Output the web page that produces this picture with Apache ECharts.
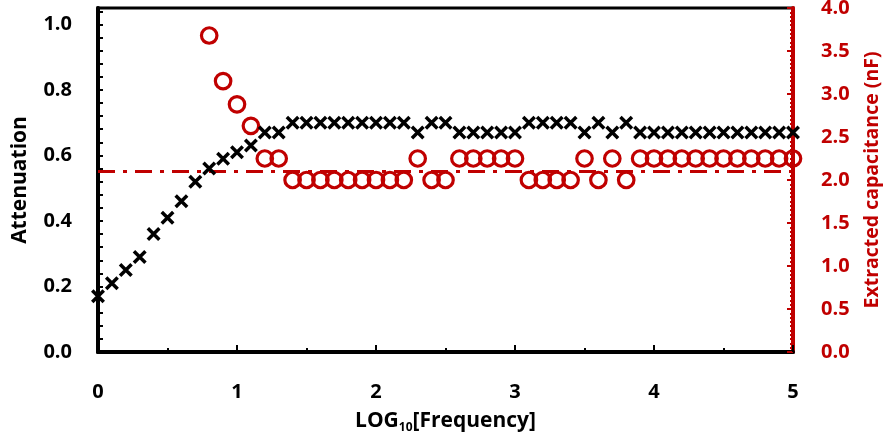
<!DOCTYPE html>
<html>
<head>
<meta charset="utf-8">
<script src="https://cdn.jsdelivr.net/npm/echarts@6/dist/echarts.min.js"></script>
<style>html,body{margin:0;padding:0;background:#fff}#chart{width:887px;height:438px}</style>
</head>
<body>
<div id="chart"></div>
<script>
// ---- data ----
var freqLog = [0.0,0.1,0.2,0.3,0.4,0.5,0.6,0.7,0.8,0.9,1.0,1.1,1.2,1.3,1.4,1.5,1.6,1.7,1.8,1.9,2.0,2.1,2.2,2.3,2.4,2.5,2.6,2.7,2.8,2.9,3.0,3.1,3.2,3.3,3.4,3.5,3.6,3.7,3.8,3.9,4.0,4.1,4.2,4.3,4.4,4.5,4.6,4.7,4.8,4.9,5.0];
var attenuation = [0.17,0.21,0.25,0.29,0.36,0.41,0.46,0.52,0.56,0.59,0.61,0.63,0.67,0.67,
  0.70,0.70,0.70,0.70,0.70,0.70,0.70,0.70,0.70,
  0.67,0.70,0.70,
  0.67,0.67,0.67,0.67,0.67,
  0.70,0.70,0.70,0.70,
  0.67,0.70,0.67,0.70,
  0.67,0.67,0.67,0.67,0.67,0.67,0.67,0.67,0.67,0.67,0.67,0.67];
var capFreqLog = [0.8,0.9,1.0,1.1,1.2,1.3,1.4,1.5,1.6,1.7,1.8,1.9,2.0,2.1,2.2,2.3,2.4,2.5,2.6,2.7,2.8,2.9,3.0,3.1,3.2,3.3,3.4,3.5,3.6,3.7,3.8,3.9,4.0,4.1,4.2,4.3,4.4,4.5,4.6,4.7,4.8,4.9,5.0];
var capacitance = [3.68,3.15,2.88,2.63,2.25,2.25,
  2.0,2.0,2.0,2.0,2.0,2.0,2.0,2.0,2.0,
  2.25,2.0,2.0,
  2.25,2.25,2.25,2.25,2.25,
  2.0,2.0,2.0,2.0,
  2.25,2.0,2.25,2.0,
  2.25,2.25,2.25,2.25,2.25,2.25,2.25,2.25,2.25,2.25,2.25,2.25];
var refLineX = [0, 5];
var refLineCap = [2.1, 2.1];
var xTicks = [0,1,2,3,4,5];
var leftTicks = [0.0,0.2,0.4,0.6,0.8,1.0];
var rightTicks = [0.0,0.5,1.0,1.5,2.0,2.5,3.0,3.5,4.0];

// ---- chart ----
var RED = '#C00000';
var FONT = '"Open Sans", sans-serif';
function pairs(xs, ys){ return xs.map(function(x,i){ return [x, ys[i]]; }); }
function inList(v, list){ for (var i=0;i<list.length;i++){ if (Math.abs(list[i]-v) < 1e-6) return true; } return false; }

var chart = echarts.init(document.getElementById('chart'));
chart.setOption({
  animation: false,
  backgroundColor: '#fff',
  grid: {left: 98, right: 94, top: 8, bottom: 86, show: true, borderColor: '#000', borderWidth: 3,
    backgroundColor: 'transparent', containLabel: false, outerBoundsMode: 'none'},
  xAxis: {
    type: 'value', min: 0, max: 5, interval: 1,
    name: 'LOG{s|10}[Frequency]', nameLocation: 'middle', nameGap: 56,
    nameTextStyle: {fontFamily: FONT, fontWeight: 'bold', fontSize: 21, color: '#000',
      rich: {s: {fontFamily: FONT, fontWeight: 'bold', fontSize: 12, color: '#000', verticalAlign: 'bottom', padding: [14,0,0,0]}}},
    axisLine: {show: true, onZero: false, lineStyle: {color: '#000', width: 4}},
    axisTick: {show: true, inside: true, length: 7, lineStyle: {color: '#000', width: 2}},
    minorTick: {show: true, splitNumber: 2, length: 4, lineStyle: {color: '#000', width: 2}},
    splitLine: {show: false},
    axisLabel: {margin: 30, fontFamily: FONT, fontWeight: 'bold', fontSize: 20, color: '#000',
      formatter: function(v){ return inList(v, xTicks) ? String(Math.round(v)) : ''; }}
  },
  yAxis: [{
    type: 'value', min: 0, max: 1.05, interval: 0.04, position: 'left',
    name: 'Attenuation', nameLocation: 'middle', nameGap: 67, nameRotate: 90,
    nameTextStyle: {fontFamily: FONT, fontWeight: 'bold', fontSize: 21, color: '#000'},
    axisLine: {show: true, onZero: false, lineStyle: {color: '#000', width: 4}},
    axisTick: {show: true, inside: true, length: 5, lineStyle: {color: '#000', width: 2}},
    splitLine: {show: false},
    axisLabel: {margin: 26, fontFamily: FONT, fontWeight: 'bold', fontSize: 20, color: '#000',
      formatter: function(v){ return inList(v, leftTicks) ? v.toFixed(1) : ''; }}
  }, {
    type: 'value', min: 0, max: 4, interval: 0.5, position: 'right',
    name: 'Extracted capacitance (nF)', nameLocation: 'middle', nameGap: 69, nameRotate: 90,
    nameTextStyle: {fontFamily: FONT, fontWeight: 'bold', fontSize: 19.5, color: RED},
    axisLine: {show: true, onZero: false, lineStyle: {color: RED, width: 4}},
    axisTick: {show: true, inside: true, length: 6, lineStyle: {color: RED, width: 2}},
    minorTick: {show: true, splitNumber: 10, length: 3, lineStyle: {color: RED, width: 2}},
    splitLine: {show: false},
    axisLabel: {margin: 28, fontFamily: FONT, fontWeight: 'bold', fontSize: 20, color: RED,
      formatter: function(v){ return inList(v, rightTicks) ? v.toFixed(1) : ''; }}
  }],
  series: [{
    type: 'line', yAxisIndex: 1, data: pairs(refLineX, refLineCap), symbol: 'none', z: 1,
    lineStyle: {color: RED, width: 3, type: [17, 8, 4, 8]}
  }, {
    type: 'scatter', yAxisIndex: 1, data: pairs(capFreqLog, capacitance), symbol: 'circle', symbolSize: 15.5, z: 3,
    itemStyle: {color: 'rgba(0,0,0,0)', borderColor: RED, borderWidth: 3.2, opacity: 1}
  }, {
    type: 'scatter', yAxisIndex: 0, data: pairs(freqLog, attenuation), symbol: 'path://M0,0L10,10M10,0L0,10', symbolSize: 11.5, z: 4,
    itemStyle: {color: 'rgba(0,0,0,0)', borderColor: '#000', borderWidth: 3.5, opacity: 1}
  }]
});
</script>
</body>
</html>
